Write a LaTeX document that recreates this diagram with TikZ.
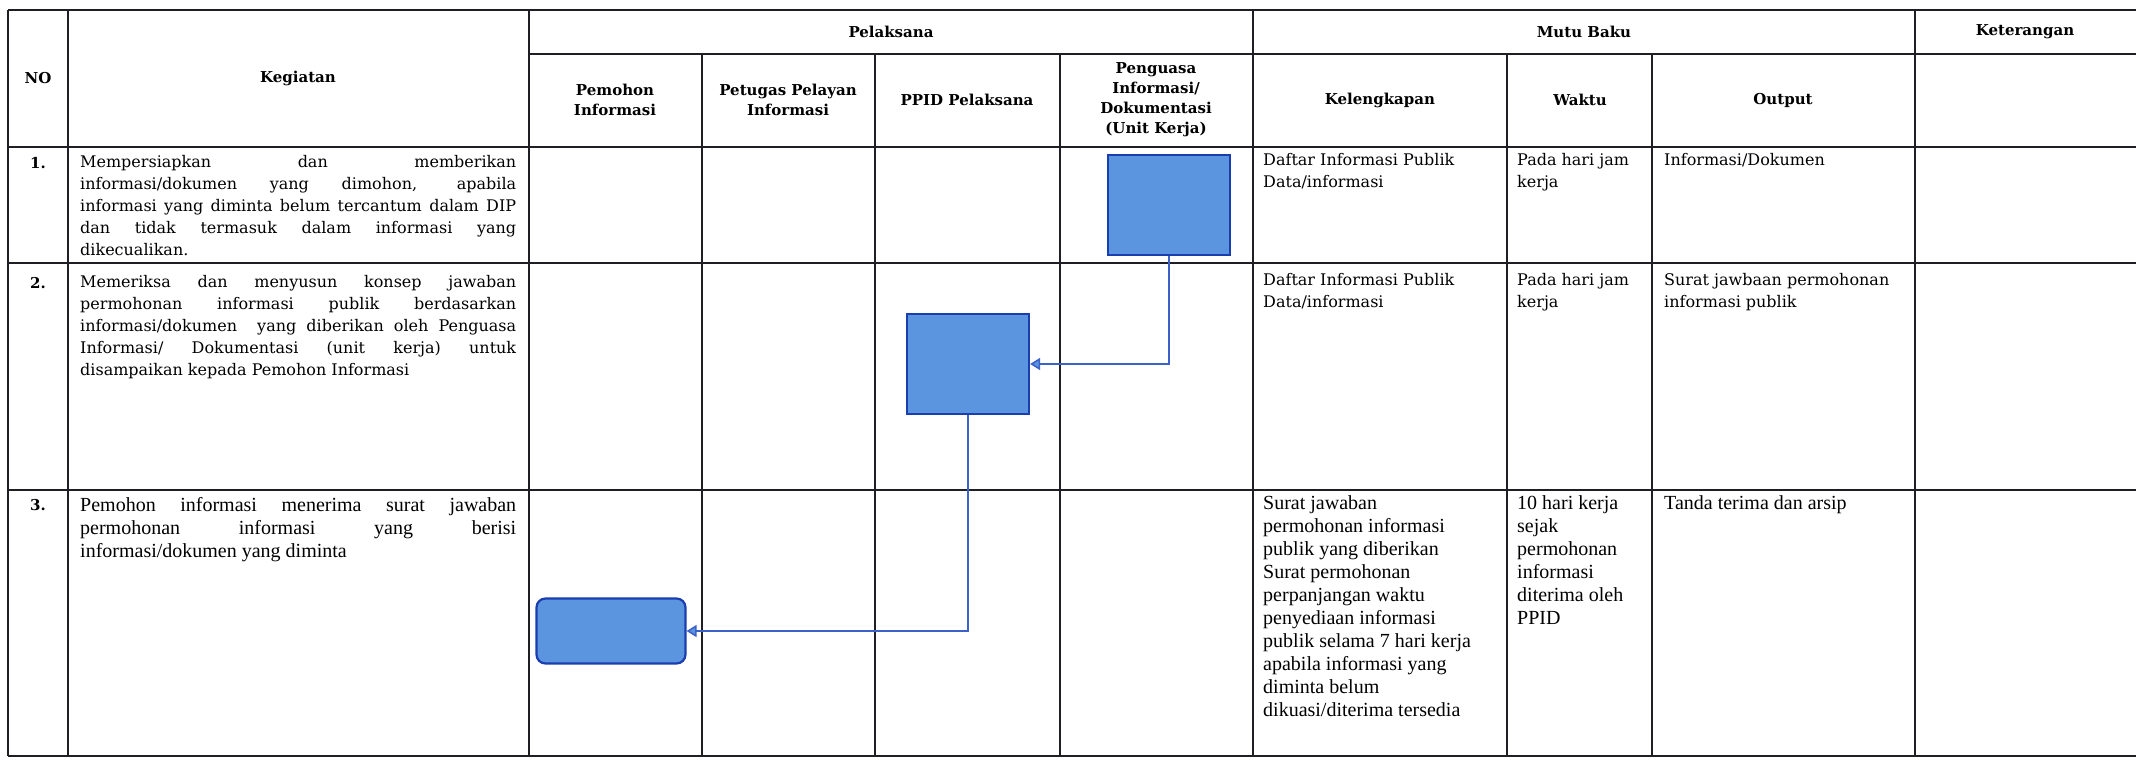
\documentclass[tikz,border=0pt]{standalone}
\usepackage{fontspec}
\setmainfont{DejaVu Serif}
\newfontfamily\timesfont{Liberation Serif}
\usetikzlibrary{arrows.meta}

\definecolor{boxfill}{HTML}{5B95E0}
\definecolor{boxline}{HTML}{1A3DB0}
\definecolor{flowline}{HTML}{3A62C8}
\definecolor{ruleblack}{HTML}{1E1E24}

\tikzset{
  tableline/.style={ruleblack, line width=2pt},
  headtext/.style={font=\fontsize{15}{20}\selectfont\bfseries, align=center, inner sep=0pt},
  celltext/.style={font=\fontsize{16}{22}\selectfont, align=left, anchor=north west, inner sep=0pt},
  celltimes/.style={font=\timesfont\fontsize{20}{23}\selectfont, align=left, anchor=north west, inner sep=0pt},
  procbox/.style={draw=boxline, fill=boxfill, line width=2.2pt, minimum width=122pt, minimum height=100pt, inner sep=0pt},
  flow/.style={flowline, line width=1.6pt, -{Triangle[length=10pt,width=12pt,fill=boxfill]}}
}

\begin{document}
\begin{tikzpicture}[x=1pt,y=-1pt]
    \useasboundingbox (0,0) rectangle (2136,761);
    % rules of the table
    \draw[tableline] (8,10) -- (2136,10);    % top
    \draw[tableline] (529,54) -- (2136,54);  % under Pelaksana / Mutu Baku
    \foreach \y in {147,263,490,756}
        \draw[tableline] (8,\y) -- (2136,\y);
    \foreach \x in {8,68,529,1253,1915}
        \draw[tableline] (\x,10) -- (\x,756);
    \foreach \x in {702,875,1060,1507,1652}
        \draw[tableline] (\x,54) -- (\x,756);

    % header
    \node[headtext] (hno) at (38,78) {NO};
    \node[headtext] (hkeg) at (298,78) {Kegiatan};
    \node[headtext] (hpel) at (891,32) {Pelaksana};
    \node[headtext] (hmutu) at (1584,32) {Mutu Baku};
    \node[headtext] (hket) at (2025,32) {Keterangan};
    \node[headtext] (hpemohon) at (615,100) {Pemohon\\Informasi};
    \node[headtext] (hpetugas) at (788,100) {Petugas Pelayan\\Informasi};
    \node[headtext] (hppid) at (967,100) {PPID Pelaksana};
    \node[headtext] (hpenguasa) at (1156,100) {Penguasa\\Informasi/\\Dokumentasi\\(Unit Kerja)};
    \node[headtext] (hleng) at (1380,100) {Kelengkapan};
    \node[headtext] (hwaktu) at (1580,100) {Waktu};
    \node[headtext] (hout) at (1783,100) {Output};

    % row 1
    \node[headtext] (no1) at (38,163) {1.};
    \node[celltext] (keg1) at (80,155) {\makebox[436pt][s]{Mempersiapkan dan memberikan}\\
        \makebox[436pt][s]{informasi/dokumen yang dimohon, apabila}\\
        \makebox[436pt][s]{informasi yang diminta belum tercantum dalam DIP}\\
        \makebox[436pt][s]{dan tidak termasuk dalam informasi yang}\\
        dikecualikan.};
    \node[celltext] (leng1) at (1263,153) {Daftar Informasi Publik\\Data/informasi};
    \node[celltext] (waktu1) at (1517,153) {Pada hari jam\\kerja};
    \node[celltext] (out1) at (1664,153) {Informasi/Dokumen};

    % row 2
    \node[headtext] (no2) at (38,283) {2.};
    \node[celltext] (keg2) at (80,275) {\makebox[436pt][s]{Memeriksa dan menyusun konsep jawaban}\\
        \makebox[436pt][s]{permohonan informasi publik berdasarkan}\\
        \makebox[436pt][s]{informasi/dokumen\ \ yang diberikan oleh Penguasa}\\
        \makebox[436pt][s]{Informasi/ Dokumentasi (unit kerja) untuk}\\
        disampaikan kepada Pemohon Informasi};
    \node[celltext] (leng2) at (1263,273) {Daftar Informasi Publik\\Data/informasi};
    \node[celltext] (waktu2) at (1517,273) {Pada hari jam\\kerja};
    \node[celltext] (out2) at (1664,273) {Surat jawbaan permohonan\\informasi publik};

    % row 3
    \node[headtext] (no3) at (38,505) {3.};
    \node[celltimes] (keg3) at (80,497) {\makebox[436pt][s]{Pemohon informasi menerima surat jawaban}\\
        \makebox[436pt][s]{permohonan informasi yang berisi}\\
        informasi/dokumen yang diminta};
    \node[celltimes] (leng3) at (1263,495) {Surat jawaban\\permohonan informasi\\publik yang diberikan\\Surat permohonan\\perpanjangan waktu\\penyediaan informasi\\publik selama 7 hari kerja\\apabila informasi yang\\diminta belum\\dikuasi/diterima tersedia};
    \node[celltimes] (waktu3) at (1517,495) {10 hari kerja\\sejak\\permohonan\\informasi\\diterima oleh\\PPID};
    \node[celltimes] (out3) at (1664,495) {Tanda terima dan arsip};

    % flow boxes
    \node[procbox] (penguasa1) at (1169,205) {};
    \node[procbox] (ppid2) at (968,364) {};
    \node[procbox, rounded corners=9pt, minimum width=149pt, minimum height=65pt] (pemohon3) at (611,631) {};
    \draw[flow] (penguasa1.south) |- (ppid2.east);
    \draw[flow] (ppid2.south) |- (pemohon3.east);
\end{tikzpicture}
\end{document}
